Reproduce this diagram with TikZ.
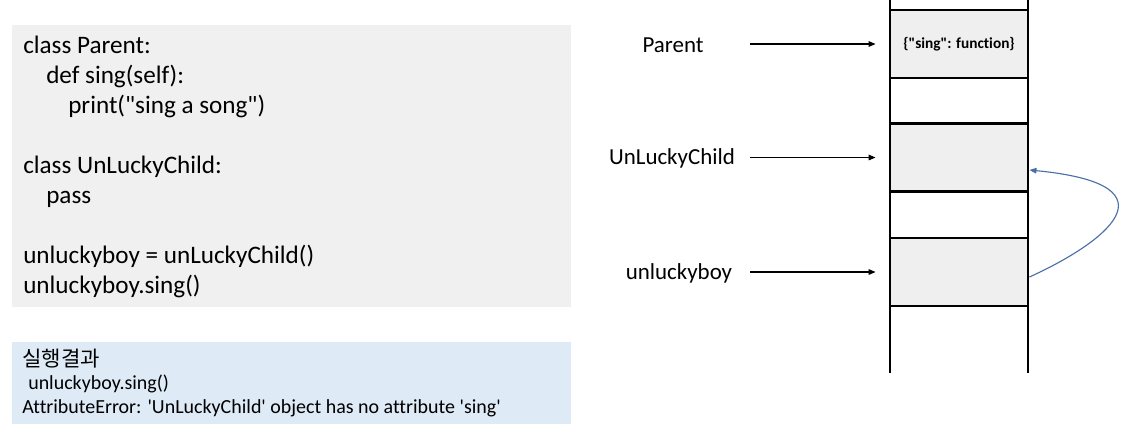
\documentclass[tikz,border=0pt]{standalone}
\usepackage{fontspec}
\setmainfont{Carlito}[Ligatures=NoCommon]
\newfontfamily\kofont{Noto Sans CJK KR}
\usetikzlibrary{arrows.meta}
\definecolor{codebg}{RGB}{240,240,240}
\definecolor{resbg}{RGB}{222,234,246}
\definecolor{cellbg}{RGB}{239,239,239}
\definecolor{linkblue}{RGB}{74,110,168}
\newcommand{\dq}{\textquotedbl}
\newcommand{\sq}{\textquotesingle}

\begin{document}
\begin{tikzpicture}[x=0.025cm, y=-0.025cm,
    codeline/.style = {anchor=base west, inner sep=0, font=\fontsize{17.9}{21}\selectfont},
    resline/.style = {anchor=base west, inner sep=0, font=\fontsize{14.2}{17}\selectfont},
    varname/.style = {inner sep=0, font=\fontsize{16.3}{19}\selectfont},
    cell/.style = {draw=black, line width=2pt, fill=cellbg, minimum width=3.45cm, minimum height=1.7cm, inner sep=0},
    ptr/.style = {-{Triangle[length=5pt,width=4pt]}, line width=0.8pt, shorten >=0.325cm},
    link/.style = {-{Triangle[length=5pt,width=4pt]}, draw=linkblue, line width=0.8pt}]
    \useasboundingbox (0,0) rectangle (1121,430);

    % code panel
    \fill[codebg] (12,25) rectangle (571,307);
    \node[codeline] (code1) at (23,53) {class Parent:};
    \node[codeline] (code2) at (46,83) {def sing(self):};
    \node[codeline] (code3) at (68,113) {print(\dq sing a song\dq)};
    \node[codeline] (code4) at (23,173) {class UnLuckyChild:};
    \node[codeline] (code5) at (46,203) {pass};
    \node[codeline] (code6) at (23,263) {unluckyboy = unLuckyChild()};
    \node[codeline] (code7) at (23,293) {unluckyboy.sing()};

    % result panel
    \fill[resbg] (12,342) rectangle (571,424);
    \node[resline, font=\kofont\fontsize{15}{17}\selectfont] (res1) at (22,366) {실행결과};
    \node[resline] (res2) at (28,389) {unluckyboy.sing()};
    \node[resline] (res3) at (22,413) {AttributeError: \sq UnLuckyChild\sq{} object has no attribute \sq sing\sq};

    % memory stack
    \draw[line width=2pt] (890,0) -- (890,373);
    \draw[line width=2pt] (1028,0) -- (1028,373);
    \node[cell] (pcell) at (959,44) {\fontsize{10.9}{12}\selectfont\bfseries\{\dq sing\dq: function\}};
    \node[cell] (ccell) at (959,157.5) {};
    \node[cell] (bcell) at (959,272) {};

    % names
    \node[varname] (pname) at (673,45) {Parent};
    \node[varname] (cname) at (672,158) {UnLuckyChild};
    \node[varname] (bname) at (679,273) {unluckyboy};
    \coordinate (ptail) at (750,44);
    \coordinate (ctail) at (750,157.5);
    \coordinate (btail) at (750,272);
    \draw[ptr] (ptail) -- (pcell);
    \draw[ptr] (ctail) -- (ccell);
    \draw[ptr] (btail) -- (bcell);

    \draw[link] ([yshift=-0.125cm]bcell.east) .. controls (1100,245) and (1185,185) .. ([yshift=-0.3125cm]ccell.east);
\end{tikzpicture}
\end{document}
